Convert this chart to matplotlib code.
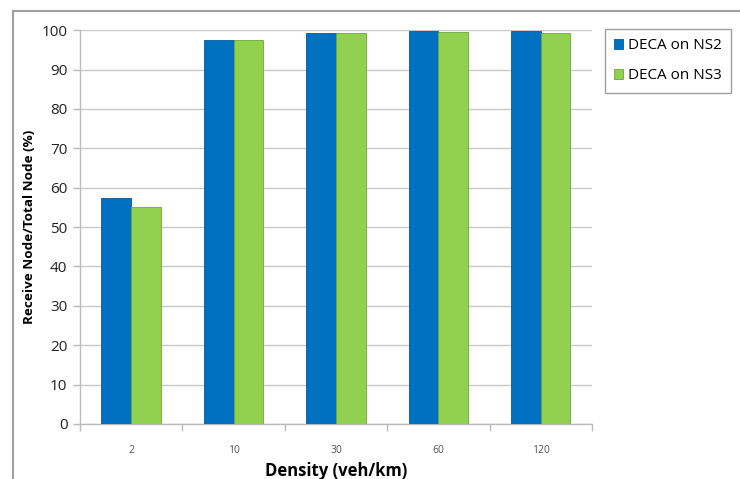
import matplotlib
matplotlib.use('Agg')

import matplotlib.pyplot as plt
from matplotlib.lines import Line2D
import numpy as np

densities = ["2", "10", "30", "60", "120"]
ns2 = [57.5, 97.5, 99.2, 99.7, 99.9]
ns3 = [55.1, 97.5, 99.2, 99.6, 99.3]

plt.rcParams['font.family'] = ['Open Sans', 'DejaVu Sans']

fig = plt.figure(figsize=(7.4, 4.79), dpi=100)
ax = fig.add_axes([0.108, 0.115, 0.692, 0.822])

x = np.arange(len(densities))
w = 0.29
ax.bar(x - w / 2, ns2, w, color="#0070C0", edgecolor="#005a9c", linewidth=0.6,
       label="DECA on NS2", zorder=3)
ax.bar(x + w / 2, ns3, w, color="#92D050", edgecolor="#6fa53a", linewidth=0.6,
       label="DECA on NS3", zorder=3)

ax.set_xlim(-0.5, len(densities) - 0.5)
ax.set_ylim(0, 100)
ax.set_yticks(range(0, 101, 10))
ax.set_xticks(x)
ax.set_xticklabels(densities, fontsize=7.5, color="#555555")
ax.set_xticks(np.arange(-0.5, len(densities)), minor=True)
ax.tick_params(axis="x", which="major", length=0, pad=15)
ax.tick_params(axis="x", which="minor", length=5, color="#bbbbbb", width=1)
ax.tick_params(axis="y", length=5, color="#bbbbbb", width=1, labelsize=11,
               labelcolor="#222222", pad=4)

ax.grid(axis="y", color="#c8c8c8", linewidth=1, zorder=0)
for side in ["top", "right"]:
    ax.spines[side].set_visible(False)
for side in ["left", "bottom"]:
    ax.spines[side].set_color("#bbbbbb")
    ax.spines[side].set_linewidth(1)

ax.set_ylabel("Receive Node/Total Node (%)", fontsize=9.7, fontweight="bold",
              labelpad=4)
ax.set_xlabel("Density (veh/km)", fontsize=12, fontweight="bold", labelpad=4.5)

leg = fig.legend(loc="upper left", bbox_to_anchor=(0.8176, 0.9395), fontsize=11,
                 frameon=True, fancybox=False, handlelength=0.6, handleheight=0.6,
                 handletextpad=0.3, labelspacing=1.0, borderpad=0.6,
                 borderaxespad=0)
leg.get_frame().set_edgecolor("#888888")
leg.get_frame().set_linewidth(1)

# chart area border
fig.add_artist(Line2D([13 / 740, 13 / 740], [0, 1 - 11 / 479],
                      color="#a0a0a0", linewidth=1.5))
fig.add_artist(Line2D([13 / 740, 1], [1 - 11 / 479, 1 - 11 / 479],
                      color="#a0a0a0", linewidth=1.5))

fig.savefig("out.png", dpi=100)
